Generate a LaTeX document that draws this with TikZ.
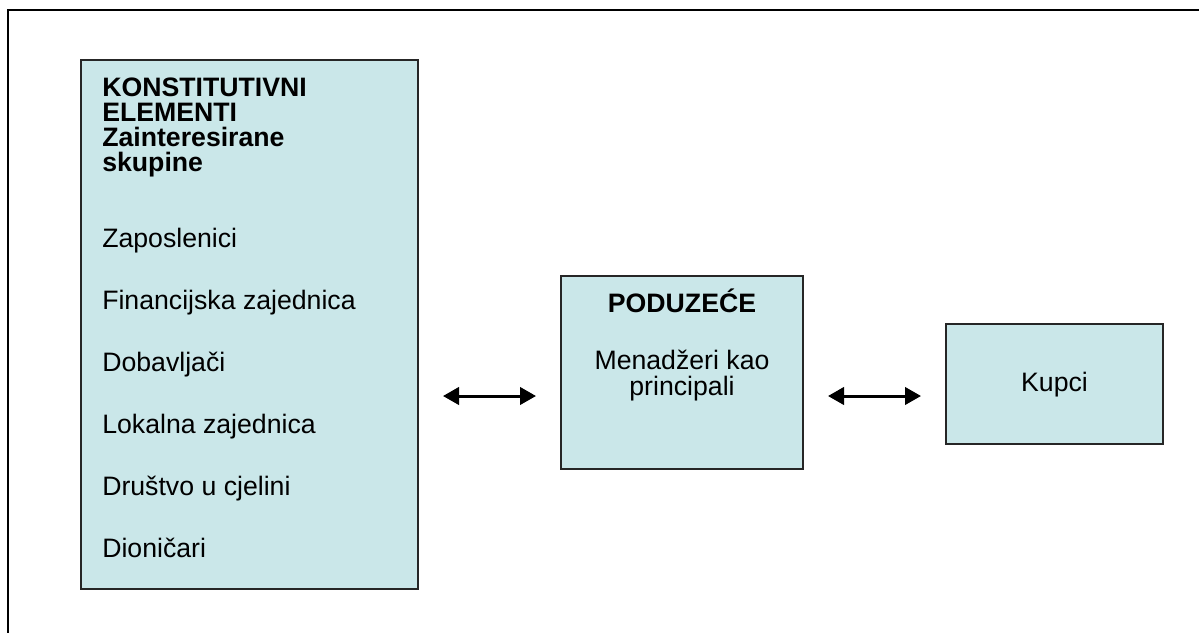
\documentclass[tikz,border=0pt]{standalone}
\usepackage{fontspec}
\setmainfont{Liberation Sans}
\usetikzlibrary{arrows.meta}
\definecolor{boxcyan}{RGB}{202,231,233}

\begin{document}
\begin{tikzpicture}[x=0.75pt,y=-0.75pt,
box/.style={draw=black!85,line width=1.5pt,fill=boxcyan,inner sep=0pt},
txt/.style={font=\fontsize{20}{19}\selectfont,inner sep=0pt},
link/.style={{Triangle[length=12pt,width=13pt]}-{Triangle[length=12pt,width=13pt]},
  line width=2.25pt,shorten <=18pt,shorten >=18pt}]
\clip (0,0) rectangle (1199,632);
% outer frame, open at right and bottom
\draw[line width=1.5pt] (1230,10) -- (8,10) -- (8,660);
% boxes
\node[box,minimum width=252.75pt,minimum height=396.75pt] (stake) at (249.5,324.5) {};
\node[box,minimum width=181.5pt,minimum height=144.75pt] (firm) at (682,372.5) {};
\node[box,minimum width=162.75pt,minimum height=90pt] (buyers) at (1054.5,384) {};
% left box text
\foreach \name [count=\i] in {KONSTITUTIVNI,ELEMENTI,Zainteresirane,skupine}
  \node[txt,anchor=base west,font=\bfseries\fontsize{20}{19}\selectfont] (head\i) at (102,{96+25*(\i-1)}) {\name};
\foreach \name [count=\i] in {Zaposlenici,Financijska zajednica,Dobavljači,Lokalna zajednica,Društvo u cjelini,Dioničari}
  \node[txt,anchor=base west] (item\i) at (102,{247+62*(\i-1)}) {\name};
% middle box text
\node[txt,anchor=base,font=\bfseries\fontsize{20}{19}\selectfont] (firmhead) at (682,312.5) {PODUZEĆE};
\node[txt,anchor=base] (firm1) at (682,369) {Menadžeri kao};
\node[txt,anchor=base] (firm2) at (682,395) {principali};
% right box text
\node[txt,anchor=base] (buyerslabel) at (1054.5,391) {Kupci};
% arrows
\coordinate (lvl) at (0,396);
\draw[link] (stake.east |- lvl) -- (firm.west |- lvl);
\draw[link] (firm.east |- lvl) -- (buyers.west |- lvl);
\end{tikzpicture}
\end{document}
